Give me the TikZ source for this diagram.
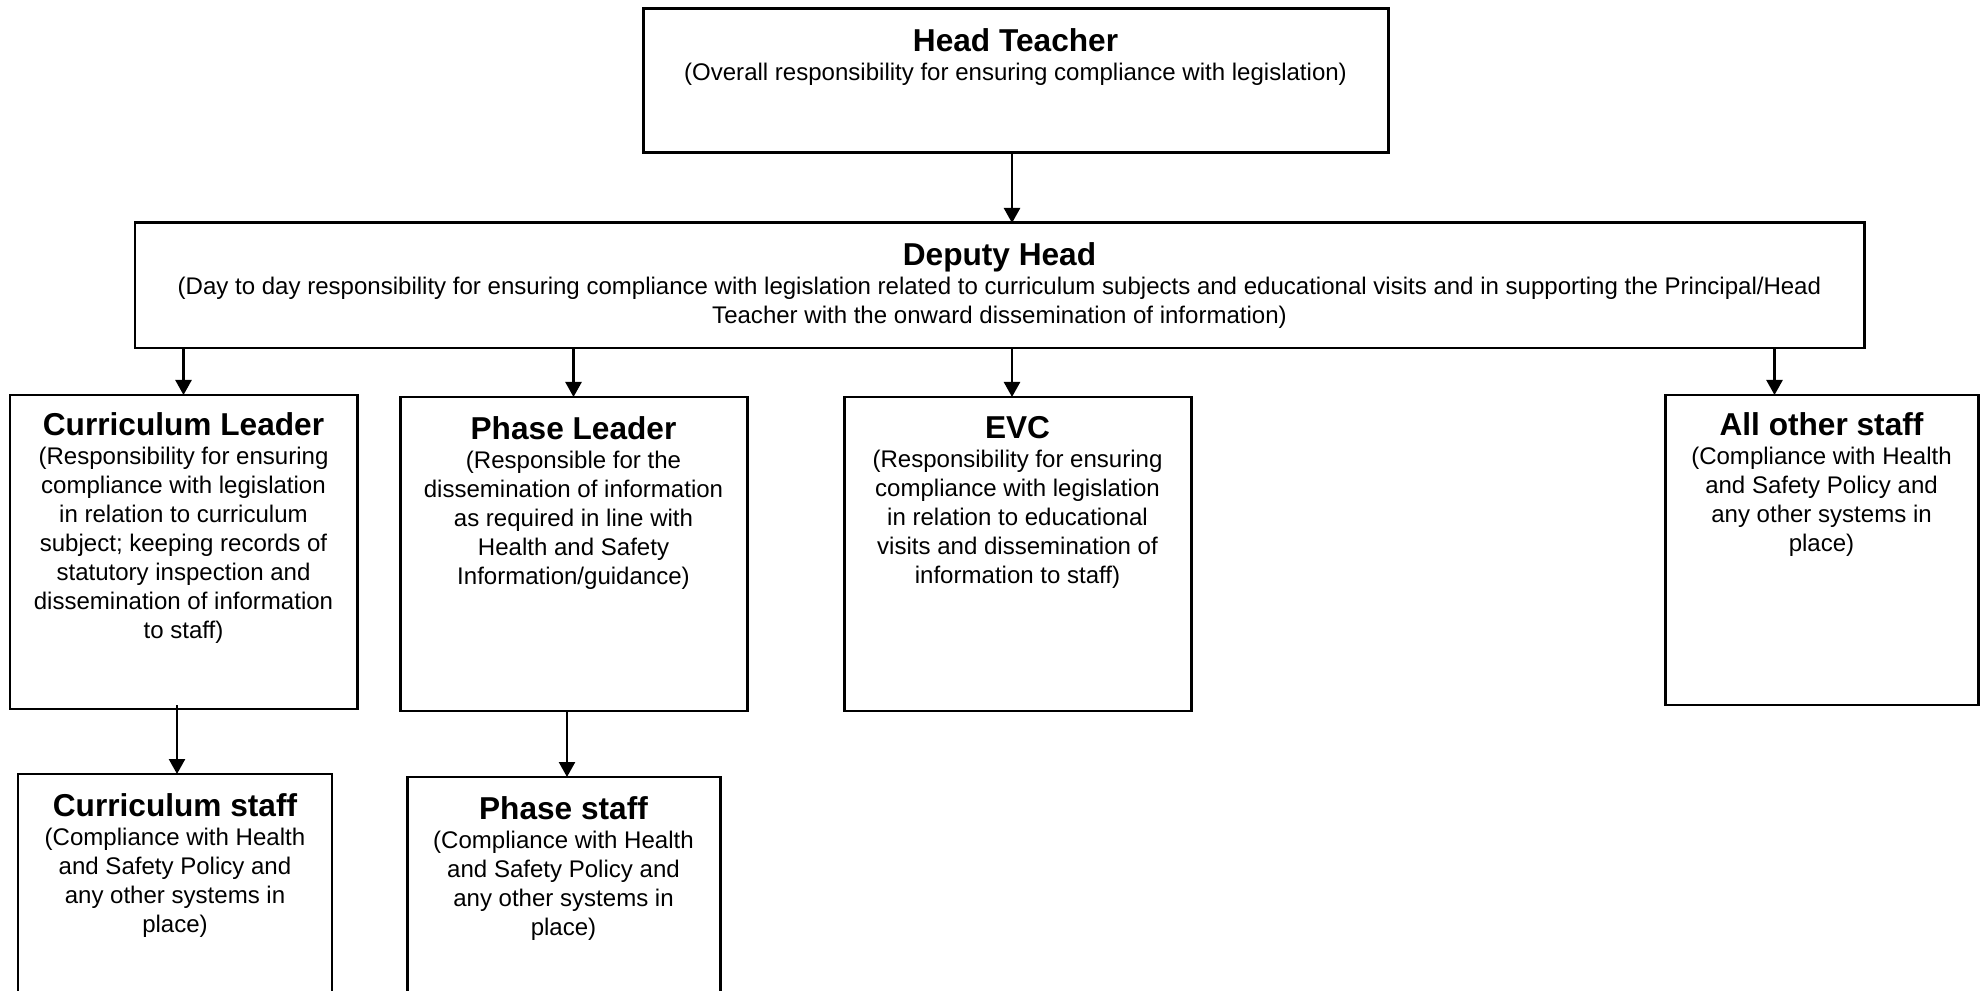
\documentclass[tikz,border=0pt]{standalone}
\usepackage{fontspec}
\setmainfont{Liberation Sans}
\usetikzlibrary{arrows.meta}
\newcommand{\ttl}[1]{{\fontsize{9}{10}\selectfont\bfseries #1}}
\begin{document}
\begin{tikzpicture}[
    box/.style={draw,line width=0.85pt,anchor=north west,inner sep=0pt,outer sep=0pt},
    txt/.style={anchor=north,inner sep=0pt,align=center,font=\fontsize{6.84}{8.25}\selectfont},
    arr/.style={line width=0.7pt,-{Triangle[length=1.5mm,width=1.6mm]}}]
    % riquadro e ritaglio: 1cm = 100px
    \useasboundingbox (0,0) rectangle (19.84,-9.91);
    \clip (0,0) rectangle (19.84,-9.91);
    \fill[white] (0,0) rectangle (19.84,-9.91);
    % livello 1
    \node[box,minimum width=7.45cm,minimum height=1.44cm] (head) at (6.43,-0.09) {};
    \node[txt] (headtxt) at ([yshift=-0.19cm]head.north) {\ttl{Head Teacher}\\[0pt](Overall responsibility for ensuring compliance with legislation)};
    % livello 2
    \node[box,minimum width=17.29cm,minimum height=1.25cm] (deputy) at (1.35,-2.23) {};
    \node[txt] (deputytxt) at ([yshift=-0.19cm]deputy.north) {\ttl{Deputy Head}\\[0pt](Day to day responsibility for ensuring compliance with legislation related to curriculum subjects and educational visits and in supporting the Principal/Head\\Teacher with the onward dissemination of information)};
    % livello 3
    \node[box,minimum width=3.47cm,minimum height=3.14cm] (curlead) at (0.10,-3.95) {};
    \node[txt] (curleadtxt) at ([yshift=-0.17cm]curlead.north) {\ttl{Curriculum Leader}\\[0pt](Responsibility for ensuring\\compliance with legislation\\in relation to curriculum\\subject; keeping records of\\statutory inspection and\\dissemination of information\\to staff)};
    \node[box,minimum width=3.47cm,minimum height=3.14cm] (phaselead) at (4.00,-3.97) {};
    \node[txt] (phaseleadtxt) at ([yshift=-0.19cm]phaselead.north) {\ttl{Phase Leader}\\[0pt](Responsible for the\\dissemination of information\\as required in line with\\Health and Safety\\Information/guidance)};
    \node[box,minimum width=3.47cm,minimum height=3.14cm] (evc) at (8.44,-3.97) {};
    \node[txt] (evctxt) at ([yshift=-0.19cm]evc.north) {\ttl{EVC}\\[0pt](Responsibility for ensuring\\compliance with legislation\\in relation to educational\\visits and dissemination of\\information to staff)};
    \node[box,minimum width=3.13cm,minimum height=3.10cm] (allother) at (16.65,-3.95) {};
    \node[txt] (allothertxt) at ([yshift=-0.17cm]allother.north) {\ttl{All other staff}\\[0pt](Compliance with Health\\and Safety Policy and\\any other systems in\\place)};
    % livello 4 (tagliato in basso)
    \node[box,minimum width=3.14cm,minimum height=2.6cm] (curstaff) at (0.18,-7.74) {};
    \node[txt] (curstafftxt) at ([yshift=-0.19cm]curstaff.north) {\ttl{Curriculum staff}\\[0pt](Compliance with Health\\and Safety Policy and\\any other systems in\\place)};
    \node[box,minimum width=3.13cm,minimum height=2.6cm] (phasestaff) at (4.07,-7.77) {};
    \node[txt] (phasestafftxt) at ([yshift=-0.19cm]phasestaff.north) {\ttl{Phase staff}\\[0pt](Compliance with Health\\and Safety Policy and\\any other systems in\\place)};
    % frecce
    \draw[arr] ([xshift=-0.035cm]head.south) -- ([xshift=-0.035cm]head.south |- deputy.north);
    \draw[arr] (deputy.south -| curlead.north) -- (curlead.north);
    \draw[arr] (deputy.south -| phaselead.north) -- (phaselead.north);
    \draw[arr] ([xshift=-0.055cm]evc.north |- deputy.south) -- ([xshift=-0.055cm]evc.north);
    \draw[arr] ([xshift=-0.47cm]allother.north |- deputy.south) -- ([xshift=-0.47cm]allother.north);
    \draw[arr] ([yshift=0.04cm]curlead.south -| 1.77,0) -- (curstaff.north -| 1.77,0);
    \draw[arr] ([yshift=0.01cm]phaselead.south -| 5.67,0) -- (phasestaff.north -| 5.67,0);
\end{tikzpicture}
\end{document}
